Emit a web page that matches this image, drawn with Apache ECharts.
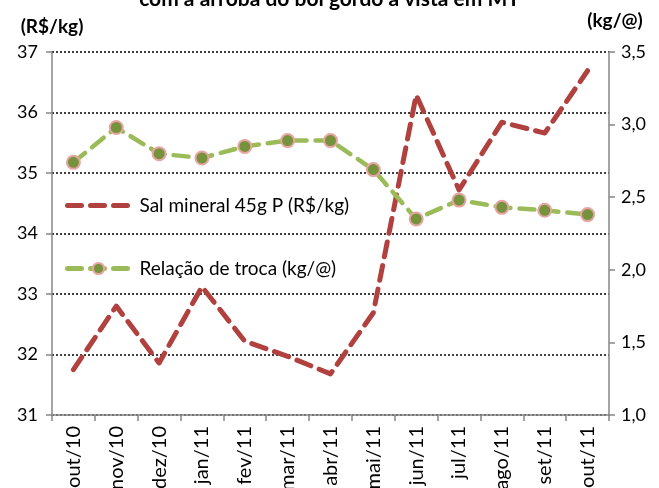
<!DOCTYPE html>
<html>
<head>
<meta charset="utf-8">
<script src="https://cdn.jsdelivr.net/npm/echarts@6/dist/echarts.min.js"></script>
<style>
html,body{margin:0;padding:0;background:#fff;}
#chart{width:659px;height:488px;}
</style>
</head>
<body>
<div id="chart"></div>
<script>
var categories = ['out/10','nov/10','dez/10','jan/11','fev/11','mar/11','abr/11','mai/11','jun/11','jul/11','ago/11','set/11','out/11'];
var salMineral = [31.75, 32.80, 31.86, 33.12, 32.22, 31.97, 31.68, 32.69, 36.29, 34.72, 35.84, 35.66, 36.69];
var relacaoTroca = [2.74, 2.98, 2.80, 2.77, 2.85, 2.89, 2.89, 2.69, 2.35, 2.48, 2.43, 2.41, 2.38];
var titleText = 'com a arroba do boi gordo à vista em MT';
var fontFam = 'Lato, "Open Sans", sans-serif';

var chart = echarts.init(document.getElementById('chart'));
chart.setOption({
  animation: false,
  textStyle: {fontFamily: fontFam},
  title: {
    text: titleText, left: 'center', top: -16,
    textStyle: {fontFamily: fontFam, fontSize: 21, fontWeight: 'bold', color: '#000'}
  },
  grid: {left: 52, right: 50, top: 52, bottom: 73, containLabel: false, outerBoundsMode: 'none'},
  legend: {
    orient: 'vertical', left: 60, top: 191, itemWidth: 62, itemHeight: 14, itemGap: 44,
    textStyle: {fontFamily: fontFam, fontSize: 19, color: '#000', padding: [0,0,0,5]},
    data: [{
      name: 'Sal mineral 45g P (R$/kg)',
      itemStyle: {color: 'rgba(0,0,0,0)', borderWidth: 0, opacity: 0},
      lineStyle: {color: '#B0413E', width: 5, type: [14, 9], cap: 'round'}
    }, {
      name: 'Relação de troca (kg/@)',
      lineStyle: {color: '#9BBB59', width: 5, type: [14, 9], cap: 'round'}
    }]
  },
  xAxis: {
    type: 'category', data: categories, boundaryGap: true,
    axisLine: {lineStyle: {color: '#868686', width: 1.5}},
    axisTick: {show: true, length: 6, lineStyle: {color: '#868686', width: 1.5}},
    axisLabel: {rotate: 90, fontSize: 20, color: '#000', margin: 11, interval: 0}
  },
  yAxis: [{
    type: 'value', min: 31, max: 37, interval: 1,
    name: '(R$/kg)', nameLocation: 'end', nameGap: 16,
    nameTextStyle: {fontFamily: fontFam, fontSize: 19, fontWeight: 'bold', color: '#000', padding: [0,0,0,0]},
    axisLine: {show: true, lineStyle: {color: '#868686', width: 1.5}},
    axisTick: {show: true, length: 6, lineStyle: {color: '#868686', width: 1.5}},
    axisLabel: {fontSize: 18, color: '#000', margin: 14},
    splitLine: {show: true, lineStyle: {color: '#000', width: 1.5, type: [2, 2]}}
  }, {
    type: 'value', min: 1, max: 3.5, interval: 0.5, position: 'right',
    name: '(kg/@)', nameLocation: 'end', nameGap: 22,
    nameTextStyle: {fontFamily: fontFam, fontSize: 19, fontWeight: 'bold', color: '#000', padding: [0,0,0,12]},
    axisLine: {show: true, lineStyle: {color: '#868686', width: 1.5}},
    axisTick: {show: true, length: 6, lineStyle: {color: '#868686', width: 1.5}},
    axisLabel: {fontSize: 18, color: '#000', margin: 12, formatter: function(v){return v.toFixed(1).replace('.', ',');}},
    splitLine: {show: false}
  }],
  series: [{
    name: 'Sal mineral 45g P (R$/kg)', type: 'line', yAxisIndex: 0, data: salMineral,
    symbol: 'none', color: '#B0413E',
    lineStyle: {color: '#B0413E', width: 5, type: [15, 9], cap: 'round', join: 'round'}
  }, {
    name: 'Relação de troca (kg/@)', type: 'line', yAxisIndex: 1, data: relacaoTroca,
    symbol: 'circle', symbolSize: 13, color: '#9BBB59',
    itemStyle: {color: '#76923C', borderColor: '#E6A5A3', borderWidth: 2},
    lineStyle: {color: '#9BBB59', width: 4.5, type: [15, 9], cap: 'round', join: 'round'}
  }]
});
</script>
</body>
</html>
